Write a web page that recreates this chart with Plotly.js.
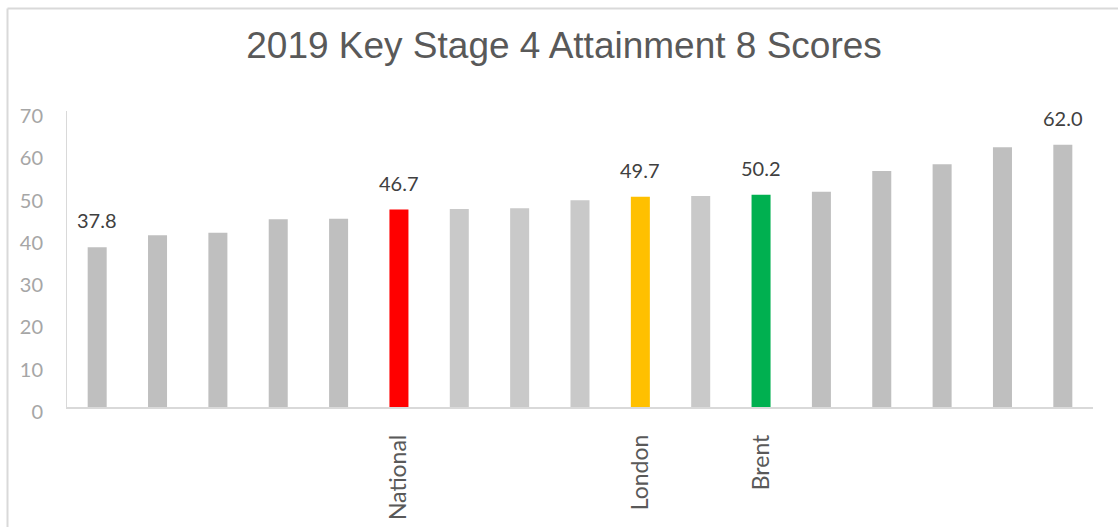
<!DOCTYPE html>
<html>
<head>
<meta charset="utf-8">
<script src="https://cdn.plot.ly/plotly-3.0.1.min.js"></script>
<style>
  html, body { margin: 0; padding: 0; background: #ffffff; }
  #chart { width: 1118px; height: 527px; }
</style>
</head>
<body>
<div id="chart"></div>
<script>
// ---- data ----
const categories = ["", "", "", "", "", "National", "", "", "", "London", "", "Brent", "", "", "", "", ""];
const scores = [37.8, 40.6, 41.2, 44.4, 44.5, 46.7, 46.8, 47.0, 48.9, 49.7, 49.9, 50.2, 50.9, 55.8, 57.4, 61.4, 62.0];
const labelledBars = [0, 5, 9, 11, 16];
const yTicks = [0, 10, 20, 30, 40, 50, 60, 70];

// ---- styles ----
const barColors = ["#BFBFBF", "#BFBFBF", "#BFBFBF", "#BFBFBF", "#BFBFBF", "#FF0000", "#C9C9C9", "#C9C9C9",
                   "#C9C9C9", "#FFC000", "#C9C9C9", "#00B050", "#BFBFBF", "#BFBFBF", "#BFBFBF", "#BFBFBF", "#BFBFBF"];

const xIndex = categories.map((_, i) => i);

const trace = {
  type: "bar",
  x: xIndex,
  y: scores,
  marker: { color: barColors },
  hoverinfo: "y",
  showlegend: false
};

const annotations = labelledBars.map(i => ({
  x: i,
  y: scores[i],
  xref: "x",
  yref: "y",
  text: scores[i].toFixed(1),
  showarrow: false,
  yanchor: "middle",
  yshift: 27,
  font: { family: "Lato, 'Open Sans', sans-serif", size: 20, color: "#404040" }
}));

const layout = {
  width: 1118,
  height: 527,
  margin: { l: 67, r: 25, t: 111, b: 120 },
  paper_bgcolor: "#ffffff",
  plot_bgcolor: "#ffffff",
  bargap: 0.685,
  title: {
    text: "2019 Key Stage 4 Attainment 8 Scores",
    font: { family: "'Liberation Sans', Arial, sans-serif", size: 37, color: "#595959" },
    x: 0.5045,
    xanchor: "center",
    xref: "container",
    y: 0.9146,
    yanchor: "middle",
    yref: "container"
  },
  xaxis: {
    type: "linear",
    range: [-0.5, 16.5],
    tickmode: "array",
    tickvals: xIndex,
    ticktext: categories,
    tickangle: -90,
    ticks: "",
    ticklabelstandoff: 17,
    showgrid: false,
    zeroline: false,
    showline: true,
    linecolor: "#D9D9D9",
    linewidth: 1.5,
    tickfont: { family: "Lato, 'Open Sans', sans-serif", size: 23, color: "#595959" },
    fixedrange: true
  },
  yaxis: {
    range: [0, 70],
    tickmode: "array",
    tickvals: yTicks,
    ticktext: yTicks.map(String),
    ticks: "",
    ticklabelstandoff: 19,
    ticklabelshift: 5,
    showgrid: false,
    zeroline: false,
    showline: true,
    linecolor: "#D9D9D9",
    linewidth: 1,
    tickfont: { family: "Lato, 'Open Sans', sans-serif", size: 20, color: "#A6A6A6" },
    fixedrange: true
  },
  annotations: annotations,
  shapes: [
    { type: "line", xref: "paper", yref: "paper", x0: -0.058, x1: 1.2, y0: 1.3463, y1: 1.3463,
      line: { color: "#D9D9D9", width: 2 } },
    { type: "line", xref: "paper", yref: "paper", x0: -0.058, x1: -0.058, y0: 1.3463, y1: -0.6,
      line: { color: "#D9D9D9", width: 2 } }
  ]
};

Plotly.newPlot("chart", [trace], layout, { displayModeBar: false, staticPlot: true });
</script>
</body>
</html>
